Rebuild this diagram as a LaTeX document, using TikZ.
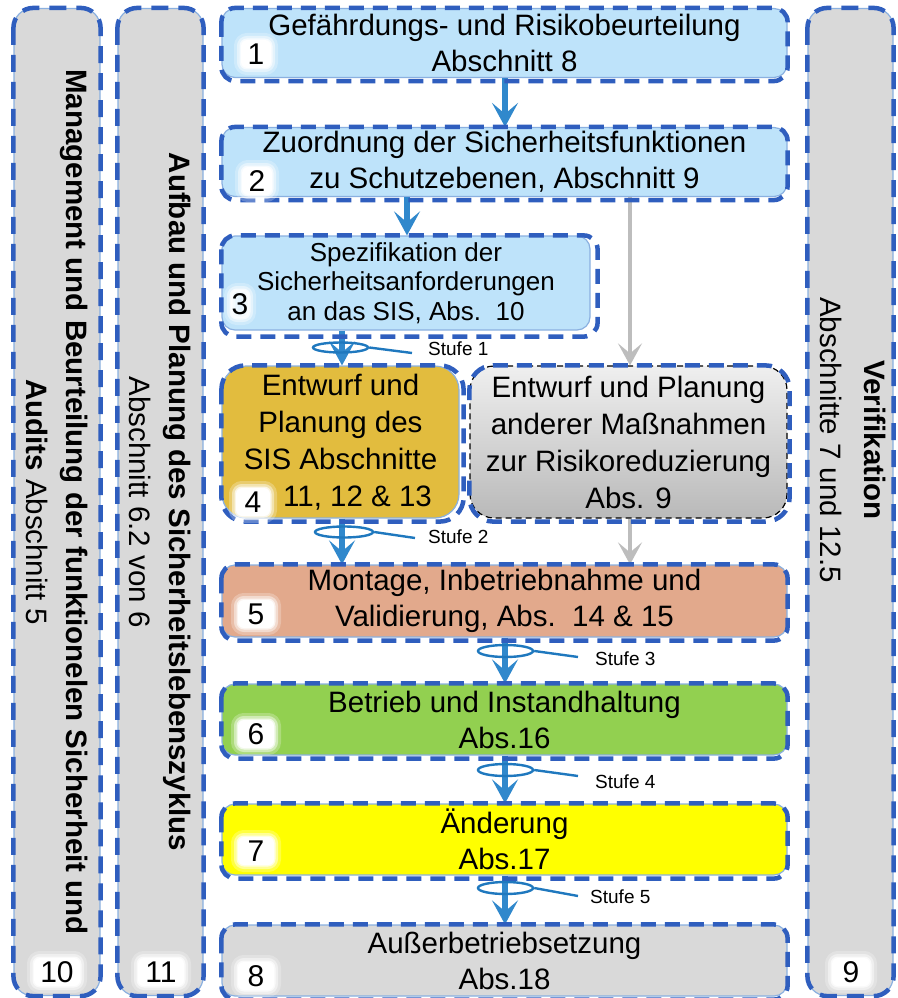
\documentclass[tikz,border=0pt]{standalone}
\usepackage{fontspec}
\setmainfont{Liberation Sans}
\usetikzlibrary{arrows.meta,calc,shapes.geometric}
\definecolor{dashblue}{HTML}{2F5EBE}
\definecolor{edgeblue}{HTML}{8AB0E0}
\definecolor{skyfill}{HTML}{BEE3FA}
\definecolor{goldfill}{HTML}{E2BC3E}
\definecolor{salmonfill}{HTML}{E2A98C}
\definecolor{greenfill}{HTML}{92D050}
\definecolor{yellowfill}{HTML}{FFFF00}
\definecolor{grayfill}{HTML}{D9D9D9}
\definecolor{othertop}{HTML}{EFEFEF}
\definecolor{otherbot}{HTML}{B9B9B9}
\definecolor{arrowblue}{HTML}{3088CC}
\definecolor{lassoblue}{HTML}{1F78BE}
\definecolor{arrowgray}{HTML}{BDBDBD}
\begin{document}
\begin{tikzpicture}[x=1pt,y=-1pt,
  bigfont/.style={font=\fontsize{29.5}{36}\selectfont},
  boxfill/.style={draw=edgeblue, line width=1.2pt, rounded corners=13pt, inner sep=0pt, align=center, bigfont},
  dashout/.style={draw=dashblue, line width=4.5pt, dash pattern=on 15pt off 9pt, rounded corners=14pt},
  coldash/.style={draw=dashblue, line width=4.5pt, dash pattern=on 17pt off 10pt, rounded corners=20pt},
  numglow/.style={fill=white, rounded corners=6pt, inner sep=0pt, minimum width=30pt, minimum height=28pt,
     font=\fontsize{30}{30}\selectfont,
     preaction={draw=white, draw opacity=0.25, line width=14pt, rounded corners=6pt},
     preaction={draw=white, draw opacity=0.45, line width=8pt, rounded corners=6pt},
     preaction={draw=white, draw opacity=0.7, line width=3pt, rounded corners=6pt}},
  flow/.style={draw=arrowblue, line width=6pt, -{Stealth[length=24pt,width=26pt,inset=11pt]}},
  grayflow/.style={draw=arrowgray, line width=4pt, -{Stealth[length=22pt,width=24pt,inset=10pt]}},
  lasso/.style={draw=lassoblue, line width=2.4pt},
  lassoring/.style={ellipse, draw=lassoblue, line width=2.4pt, inner sep=0pt, minimum width=56pt, minimum height=11pt},
  stufe/.style={font=\fontsize{19}{19}\selectfont, anchor=west, inner sep=0pt},
  coltext/.style={rotate=-90, align=center, font=\fontsize{29.5}{40}\selectfont}
]
\useasboundingbox (0,0) rectangle (897,998);

% side columns
\node[boxfill, fill=grayfill, rounded corners=18pt, minimum width=86pt, minimum height=987pt] (c10) at (57,502) {};
\node[boxfill, fill=grayfill, rounded corners=18pt, minimum width=85pt, minimum height=987pt] (c11) at (160.5,502) {};
\node[boxfill, fill=grayfill, rounded corners=18pt, minimum width=85pt, minimum height=987pt] (c9) at (850.5,502) {};
\draw[coldash] (c10.north west) rectangle (c10.south east);
\draw[coldash] (c11.north west) rectangle (c11.south east);
\draw[coldash] (c9.north west) rectangle (c9.south east);
\node[coltext] (t10) at (c10.center) {\textbf{Management und Beurteilung der funktionelen Sicherheit und}\\\textbf{Audits} Abschnitt 5};
\node[coltext] (t11) at (c11.center) {\textbf{Aufbau und Planung des Sicherheitslebenszyklus}\\Abschnitt 6.2 von 6};
\node[coltext, font=\fontsize{29.5}{44}\selectfont] (t9) at (853,440) {\textbf{Verifikation}\\Abschnitte 7 und 12.5};

% main boxes
\node[boxfill, fill=skyfill, minimum width=565pt, minimum height=69pt] (b1) at (504.5,43) {Gefährdungs- und Risikobeurteilung\\Abschnitt 8};
\node[boxfill, fill=skyfill, minimum width=565pt, minimum height=69pt] (b2) at (504.5,162) {Zuordnung der Sicherheitsfunktionen\\zu Schutzebenen, Abschnitt 9};
\node[boxfill, fill=skyfill, minimum width=368pt, minimum height=94pt, font=\fontsize{26}{29.5}\selectfont] (b3) at (406,283) {Spezifikation der\\Sicherheitsanforderungen\\an das SIS, Abs.\ \ 10};
\node[boxfill, fill=goldfill, rounded corners=24pt, minimum width=237pt, minimum height=152pt, font=\fontsize{29.5}{37}\selectfont] (b4) at (340.5,442) {Entwurf und\\Planung des\\SIS Abschnitte\\\hspace*{34pt}11, 12 \& 13};
\node[boxfill, draw=black, line width=1.2pt, dash pattern=on 6pt off 4pt, top color=othertop, bottom color=otherbot, rounded corners=24pt, minimum width=317pt, minimum height=152pt, font=\fontsize{29.5}{37}\selectfont] (bo) at (628.5,442) {Entwurf und Planung\\anderer Maßnahmen\\zur Risikoreduzierung\\Abs. 9};
\node[boxfill, fill=salmonfill, minimum width=565pt, minimum height=72pt] (b5) at (504.5,601) {Montage, Inbetriebnahme und\\Validierung, Abs.\ \ 14 \& 15};
\node[boxfill, fill=greenfill, minimum width=565pt, minimum height=71pt] (b6) at (504.5,719.5) {Betrieb und Instandhaltung\\Abs.16};
\node[boxfill, fill=yellowfill, minimum width=565pt, minimum height=71pt] (b7) at (504.5,839.5) {Änderung\\Abs.17};
\node[boxfill, fill=grayfill, minimum width=565pt, minimum height=71pt] (b8) at (504.5,960.5) {Außerbetriebsetzung\\Abs.18};

% connectors
\coordinate (xa) at (505,0);
\coordinate (xb) at (407,0);
\coordinate (xc) at (342,0);
\coordinate (xg) at (630,0);
\draw[flow] (b1.south -| xa) -- (b2.north -| xa);
\draw[flow] (b2.south -| xb) -- (b3.north -| xb);
\draw[flow] (b3.south -| xc) -- (b4.north -| xc);
\draw[flow] (b4.south -| xc) -- (b5.north -| xc);
\draw[flow] (b5.south -| xa) -- (b6.north -| xa);
\draw[flow] (b6.south -| xa) -- (b7.north -| xa);
\draw[flow] (b7.south -| xa) -- (b8.north -| xa);
\draw[grayflow] (b2.south -| xg) -- (bo.north -| xg);
\draw[grayflow] (bo.south -| xg) -- (b5.north -| xg);

% dashed outlines
\draw[dashout] (b1.north west) rectangle ($(b1.south east)+(0,3)$);
\draw[dashout] (b2.north west) rectangle ($(b2.south east)+(0,3)$);
\draw[dashout] (b3.north west) rectangle ($(b3.south east)+(7,6)$);
\draw[dashout, rounded corners=24pt] (b4.north west) rectangle ($(b4.south east)+(4,3)$);
\draw[dashout, rounded corners=24pt] ($(bo.south west)+(0,-38)$) -- ($(bo.south west)+(0,3)$) -- ($(bo.south east)+(2,3)$) -- ($(bo.north east)+(2,0)$) -- (bo.north west) -- ($(bo.north west)+(0,38)$);
\draw[dashout] (b5.north west) rectangle ($(b5.south east)+(0,3)$);
\draw[dashout] (b6.north west) rectangle ($(b6.south east)+(0,3)$);
\draw[dashout] (b7.north west) rectangle ($(b7.south east)+(0,3)$);
\draw[dashout] (b8.north west) rectangle ($(b8.south east)+(0,3)$);

% numbers
\node[numglow] (n1) at (256,54) {1};
\node[numglow] (n2) at (257,181) {2};
\node[numglow, minimum width=18pt, fill opacity=0.6, text opacity=1] (n3) at (240,304) {3};
\node[numglow, minimum width=34pt] (n4) at (253,502) {4};
\node[numglow, minimum width=36pt] (n5) at (256,614) {5};
\node[numglow, minimum width=36pt] (n6) at (256,734) {6};
\node[numglow, minimum width=36pt] (n7) at (256,851) {7};
\node[numglow, minimum width=36pt] (n8) at (256,976) {8};
\node[numglow, minimum width=46pt] (n10) at (57,972) {10};
\node[numglow, minimum width=46pt] (n11) at (161,972) {11};
\node[numglow, minimum width=38pt] (n9) at (851,972) {9};

% Stufe markers
\node[lassoring, minimum width=55pt, minimum height=10pt] (e1) at (340.5,347.5) {};
\node[lassoring, minimum width=58pt] (e2) at (344,532) {};
\node[lassoring, minimum width=55pt, minimum height=12pt] (e3) at (505.5,651) {};
\node[lassoring, minimum width=55pt, minimum height=12pt] (e4) at (505.5,770) {};
\node[lassoring, minimum width=55pt, minimum height=12pt] (e5) at (505.5,888) {};
\node[stufe] (s1) at (428,349) {Stufe 1};
\node[stufe] (s2) at (428,537) {Stufe 2};
\node[stufe] (s3) at (595,659) {Stufe 3};
\node[stufe] (s4) at (595,782) {Stufe 4};
\node[stufe] (s5) at (590,897) {Stufe 5};
\coordinate (l1) at (412,353);
\coordinate (l2) at (415,538);
\coordinate (l3) at (578,657);
\coordinate (l4) at (578,776);
\coordinate (l5) at (578,896);
\draw[lasso] (e1.east) -- (l1);
\draw[lasso] (e2.east) -- (l2);
\draw[lasso] (e3.east) -- (l3);
\draw[lasso] (e4.east) -- (l4);
\draw[lasso] (e5.east) -- (l5);
\end{tikzpicture}
\end{document}
